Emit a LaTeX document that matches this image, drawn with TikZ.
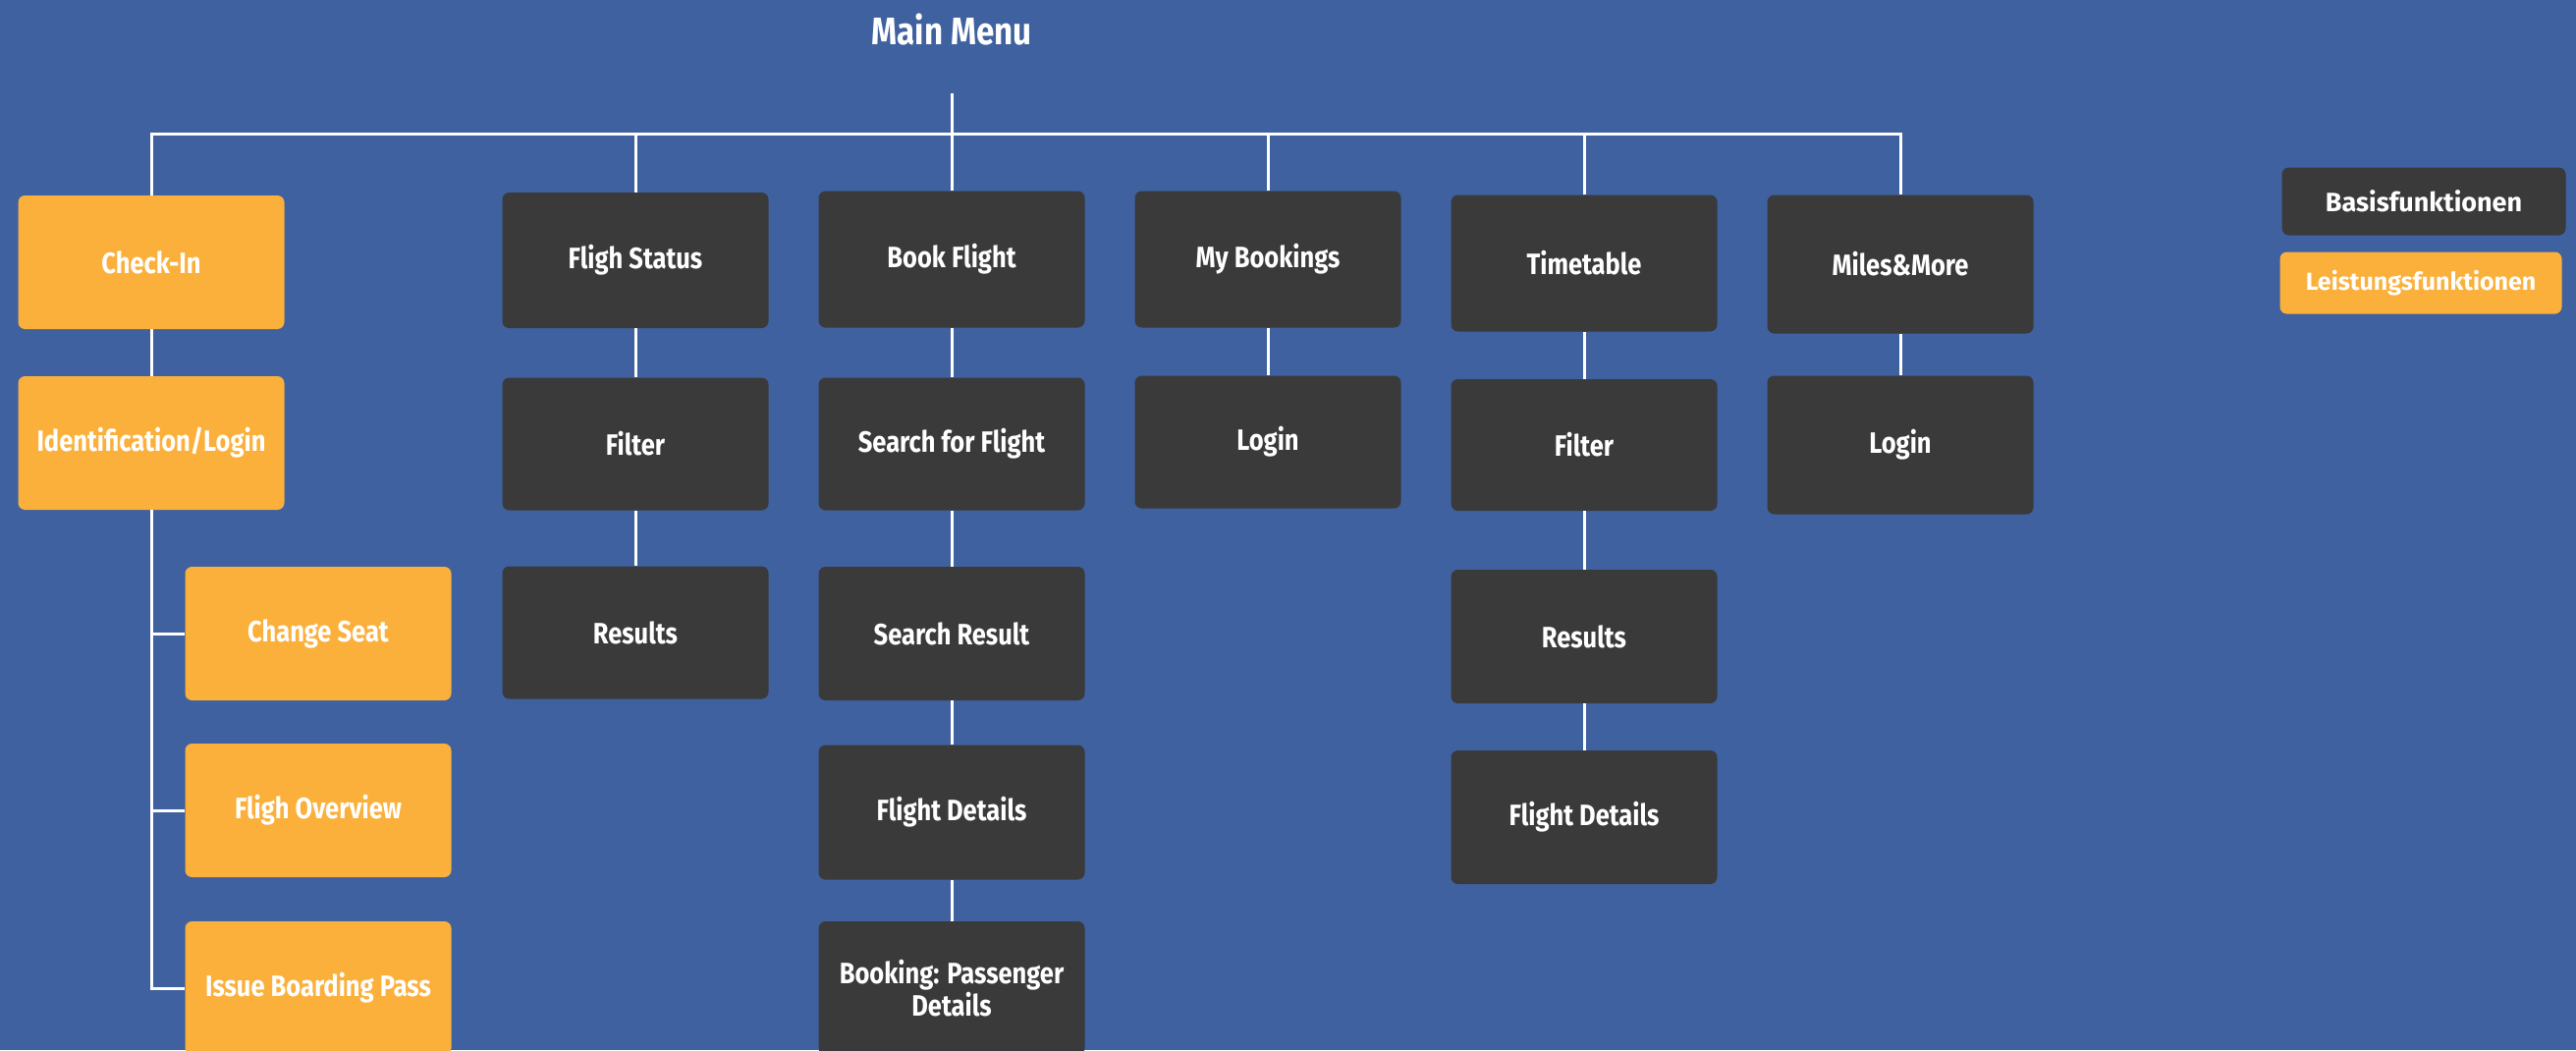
\documentclass[tikz,border=0pt]{standalone}
\usepackage{fontspec}
\setmainfont{Fira Sans}
\newfontfamily\boxfont{Fira Sans}[FakeStretch=0.85]
\newfontfamily\legfont{Fira Sans}
\definecolor{bg}{RGB}{63,97,160}
\definecolor{darkbox}{RGB}{58,58,58}
\definecolor{orangebox}{RGB}{251,176,59}
\tikzset{
  base/.style={rounded corners=7pt, minimum width=271pt, minimum height=136pt, inner sep=0pt, text=white, align=center, font=\boxfont\bfseries\fontsize{30}{33}\selectfont},
  basis/.style={base, fill=darkbox},
  leist/.style={base, fill=orangebox},
  conn/.style={draw=white, line width=3pt},
}
\begin{document}
\begin{tikzpicture}[x=1pt,y=-1pt]
\fill[bg] (0,0) rectangle (2623,1069);
\clip (0,0) rectangle (2623,1069);
\useasboundingbox (0,0) rectangle (2623,1069);

\node[text=white, font=\boxfont\bfseries\fontsize{39}{42}\selectfont] (mm) at (969,30) {Main Menu};
\coordinate (top) at (969,95);
\coordinate (bar) at (969,136);

% column 1
\node[leist] (checkin) at (154,267) {Check-In};
\node[leist] (ident) at (154,451) {Identification/Login};
\node[leist] (seat) at (324,645) {Change Seat};
\node[leist] (overview) at (324,825) {Fligh Overview};
\node[leist] (board) at (324,1006) {Issue Boarding Pass};

% column 2
\node[basis, minimum height=138pt] (fstatus) at (647,265) {Fligh Status};
\node[basis, minimum height=135pt] (ffilter) at (647,452) {Filter};
\node[basis, minimum height=135pt] (fresults) at (647,644) {Results};

% column 3
\node[basis, minimum height=139pt] (book) at (969,264) {Book Flight};
\node[basis, minimum height=135pt] (search) at (969,452) {Search for Flight};
\node[basis] (sresult) at (969,645) {Search Result};
\node[basis, minimum height=137pt] (bdetails) at (969,827) {Flight Details};
\node[basis] (passenger) at (969,1006) {Booking: Passenger\\Details};

% column 4
\node[basis, minimum height=139pt] (mybook) at (1291,264) {My Bookings};
\node[basis, minimum height=135pt] (mlogin) at (1291,450) {Login};

% column 5
\node[basis, minimum height=139pt] (timetable) at (1613,268) {Timetable};
\node[basis, minimum height=134pt] (tfilter) at (1613,453) {Filter};
\node[basis] (tresults) at (1613,648) {Results};
\node[basis] (tdetails) at (1613,832) {Flight Details};

% column 6
\node[basis, minimum height=141pt] (miles) at (1935,269) {Miles\&More};
\node[basis, minimum height=141pt] (milogin) at (1935,453) {Login};

% legend
\node[basis, minimum width=289pt, minimum height=69pt, font=\legfont\bfseries\fontsize{27}{30}\selectfont] (lb) at (2468,205) {Basisfunktionen};
\node[leist, minimum width=287pt, minimum height=63pt, font=\legfont\bfseries\fontsize{25}{28}\selectfont] (ll) at (2465,288) {Leistungsfunktionen};

% connectors
\draw[conn] (top) -- (bar);
\draw[conn] (checkin.north) |- (bar) -| (miles.north);
\draw[conn] (fstatus.north) -- (fstatus.north |- bar);
\draw[conn] (book.north) -- (book.north |- bar);
\draw[conn] (mybook.north) -- (mybook.north |- bar);
\draw[conn] (timetable.north) -- (timetable.north |- bar);

\draw[conn] (checkin) -- (ident);
\draw[conn] (ident.south) -- (ident.south |- board.west) -- (board.west);
\draw[conn] (ident.south |- seat.west) -- (seat.west);
\draw[conn] (ident.south |- overview.west) -- (overview.west);

\draw[conn] (fstatus) -- (ffilter);
\draw[conn] (ffilter) -- (fresults);

\draw[conn] (book) -- (search);
\draw[conn] (search) -- (sresult);
\draw[conn] (sresult) -- (bdetails);
\draw[conn] (bdetails) -- (passenger);

\draw[conn] (mybook) -- (mlogin);

\draw[conn] (timetable) -- (tfilter);
\draw[conn] (tfilter) -- (tresults);
\draw[conn] (tresults) -- (tdetails);

\draw[conn] (miles) -- (milogin);
\end{tikzpicture}
\end{document}
